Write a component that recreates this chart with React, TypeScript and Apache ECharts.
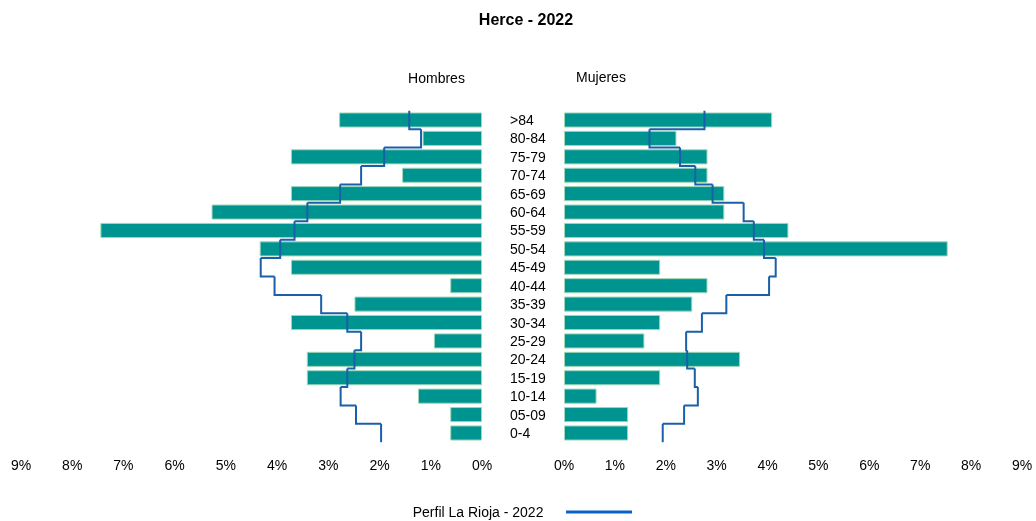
import React, { useEffect, useRef } from "react";
import * as echarts from "echarts";

const titleText = "Herce - 2022";
const leftHeader = "Hombres";
const rightHeader = "Mujeres";
const legendText = "Perfil La Rioja - 2022";

const categories = [">84", "80-84", "75-79", "70-74", "65-69", "60-64", "55-59", "50-54", "45-49", "40-44", "35-39", "30-34", "25-29", "20-24", "15-19", "10-14", "05-09", "0-4"];
const hombres = [2.79, 1.16, 3.73, 1.56, 3.73, 5.28, 7.45, 4.34, 3.73, 0.62, 2.49, 3.73, 0.94, 3.42, 3.42, 1.25, 0.62, 0.62];
const mujeres = [4.09, 2.21, 2.82, 2.82, 3.15, 3.15, 4.41, 7.54, 1.89, 2.82, 2.52, 1.89, 1.58, 3.46, 1.89, 0.64, 1.26, 1.26];
const riojaHombres = [1.42, 1.19, 1.91, 2.36, 2.77, 3.41, 3.66, 3.94, 4.32, 4.05, 3.14, 2.63, 2.36, 2.49, 2.63, 2.76, 2.46, 1.97];
const riojaMujeres = [2.76, 1.68, 2.28, 2.58, 2.92, 3.53, 3.73, 3.93, 4.16, 4.03, 3.19, 2.71, 2.40, 2.42, 2.57, 2.63, 2.36, 1.94];
const xMin = 0;
const xMax = 9;
const xInterval = 1;

const FONT = 'Arial, "Liberation Sans", sans-serif';
const BAR_COLOR = "#009490";
const BAR_BORDER = "#9fd6b8";
const LINE_COLOR = "#1a5fa8";
const LEGEND_LINE = "#0b63c8";

function stepData(vals: number[]) {
  return vals.map((v, i) => [v, i, i + 1 < vals.length ? vals[i + 1] : v]);
}

function stepRender(params: any, api: any) {
  const v = api.value(0);
  const i = api.value(1);
  const nx = api.value(2);
  const p = api.coord([v, i]);
  const h = api.size([0, 1])[1];
  const pts: number[][] = [
    [p[0], p[1] - h / 2],
    [p[0], p[1] + h / 2],
  ];
  const q = api.coord([nx, i]);
  pts.push([q[0], p[1] + h / 2]);
  return {
    type: "polyline",
    shape: { points: pts },
    style: { stroke: LINE_COLOR, lineWidth: 2, fill: "none" },
  };
}

export default function App() {
  const ref = useRef<HTMLDivElement>(null);
  useEffect(() => {
    if (!ref.current) return;
    const chart = echarts.init(ref.current, null, { renderer: "svg" });
    const xAxisCommon = {
      type: "value",
      min: xMin,
      max: xMax,
      interval: xInterval,
      axisLine: { show: false },
      axisTick: { show: false },
      splitLine: { show: false },
      axisLabel: {
        formatter: "{value}%",
        fontSize: 14,
        color: "#000",
        fontFamily: FONT,
        margin: 16,
      },
    };
    chart.setOption({
      animation: false,
      textStyle: { fontFamily: FONT },
      grid: [
        { left: 21, right: 1036 - 482, top: 110.8, bottom: 78.8 },
        { left: 564, right: 14, top: 110.8, bottom: 78.8 },
      ],
      xAxis: [
        { ...xAxisCommon, gridIndex: 0, inverse: true },
        { ...xAxisCommon, gridIndex: 1 },
      ],
      yAxis: [
        {
          type: "category",
          gridIndex: 0,
          data: categories,
          inverse: true,
          axisLine: { show: false },
          axisTick: { show: false },
          axisLabel: { show: false },
        },
        {
          type: "category",
          gridIndex: 1,
          data: categories,
          inverse: true,
          axisLine: { show: false },
          axisTick: { show: false },
          axisLabel: {
            show: true,
            align: "left",
            margin: 54,
            fontSize: 14,
            color: "#000",
            fontFamily: FONT,
            padding: [4, 0, 0, 0],
          },
        },
      ],
      series: [
        {
          name: leftHeader,
          type: "bar",
          xAxisIndex: 0,
          yAxisIndex: 0,
          data: hombres,
          barWidth: "82%",
          itemStyle: { color: BAR_COLOR, borderColor: BAR_BORDER, borderWidth: 1 },
        },
        {
          name: rightHeader,
          type: "bar",
          xAxisIndex: 1,
          yAxisIndex: 1,
          data: mujeres,
          barWidth: "82%",
          itemStyle: { color: BAR_COLOR, borderColor: BAR_BORDER, borderWidth: 1 },
        },
        {
          name: legendText,
          type: "custom",
          xAxisIndex: 0,
          yAxisIndex: 0,
          renderItem: stepRender,
          encode: { x: 0, y: 1 },
          data: stepData(riojaHombres),
          z: 5,
        },
        {
          name: legendText,
          type: "custom",
          xAxisIndex: 1,
          yAxisIndex: 1,
          renderItem: stepRender,
          encode: { x: 0, y: 1 },
          data: stepData(riojaMujeres),
          z: 5,
        },
      ],
      graphic: [
        {
          type: "text",
          x: 526,
          y: 19,
          style: {
            text: titleText,
            fontSize: 16,
            fontWeight: "bold",
            fontFamily: FONT,
            fill: "#000",
            align: "center",
            verticalAlign: "middle",
          },
        },
        {
          type: "text",
          x: 436.5,
          y: 78,
          style: {
            text: leftHeader,
            fontSize: 14,
            fontFamily: FONT,
            fill: "#000",
            align: "center",
            verticalAlign: "middle",
          },
        },
        {
          type: "text",
          x: 601,
          y: 77,
          style: {
            text: rightHeader,
            fontSize: 14,
            fontFamily: FONT,
            fill: "#000",
            align: "center",
            verticalAlign: "middle",
          },
        },
        {
          type: "text",
          x: 412.7,
          y: 512,
          style: {
            text: legendText,
            fontSize: 14,
            fontFamily: FONT,
            fill: "#000",
            align: "left",
            verticalAlign: "middle",
          },
        },
        {
          type: "line",
          shape: { x1: 566, y1: 512, x2: 632, y2: 512 },
          style: { stroke: LEGEND_LINE, lineWidth: 3 },
        },
      ],
    });
    return () => chart.dispose();
  }, []);
  return (
    <div
      ref={ref}
      style={{ position: "fixed", left: 0, top: 0, width: 1036, height: 521 }}
    />
  );
}
